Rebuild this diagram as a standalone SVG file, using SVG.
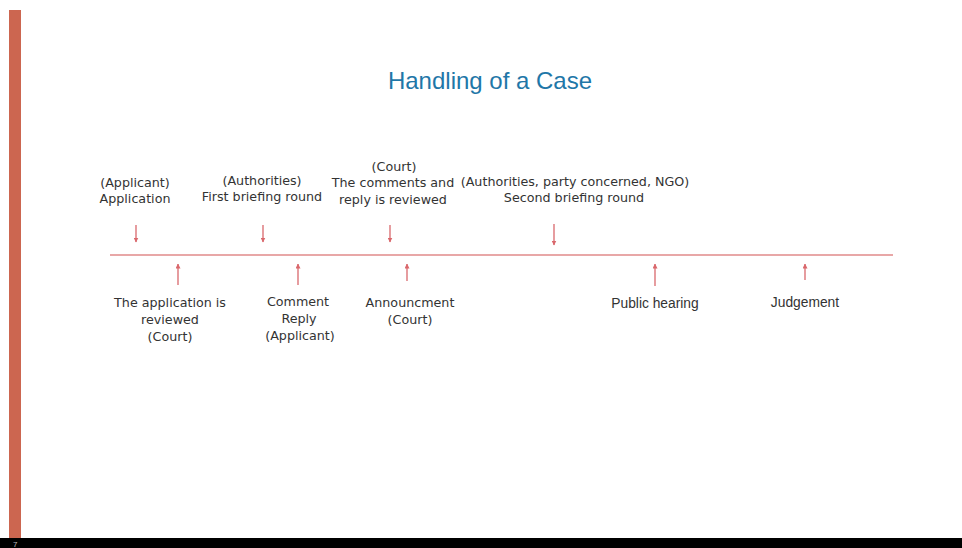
<svg xmlns="http://www.w3.org/2000/svg" width="962" height="548" viewBox="0 0 962 548">
<defs>
<style>
.lbl{font-family:"DejaVu Sans","Liberation Sans",sans-serif;font-size:12.7px;fill:#333;text-anchor:middle}
.arl{font-family:"Liberation Sans",Arial,sans-serif;font-size:13.8px;fill:#333;text-anchor:middle}
.arr{stroke:#d9686c;stroke-width:1.3;fill:none;marker-end:url(#ah)}
</style>
<marker id="ah" viewBox="0 0 10 10" refX="9" refY="5" markerWidth="5" markerHeight="5" orient="auto" markerUnits="userSpaceOnUse">
<path d="M0,0 L10,5 L0,10 z" fill="#d9686c"/>
</marker>
</defs>
<rect width="962" height="548" fill="#fff"/>
<rect x="9" y="10" width="12" height="528" fill="#cc6650"/>
<rect x="0" y="538" width="962" height="10" fill="#000"/>
<text x="13" y="546.5" font-family="Liberation Sans,sans-serif" font-size="8" fill="#bbb">7</text>
<text x="490" y="89" font-family="Liberation Sans,Arial,sans-serif" font-size="24" fill="#1f77a8" text-anchor="middle">Handling of a Case</text>
<g id="connectors">
<line x1="110" y1="255" x2="893" y2="255" stroke="#e08a8a" stroke-width="1.3"/>
<line class="arr" x1="136" y1="225" x2="136" y2="242"/>
<line class="arr" x1="263" y1="225" x2="263" y2="242"/>
<line class="arr" x1="390" y1="225" x2="390" y2="242"/>
<line class="arr" x1="554" y1="224" x2="554" y2="245"/>
<line class="arr" x1="178" y1="285" x2="178" y2="264"/>
<line class="arr" x1="298" y1="285" x2="298" y2="264"/>
<line class="arr" x1="407" y1="281" x2="407" y2="264"/>
<line class="arr" x1="655" y1="286" x2="655" y2="264"/>
<line class="arr" x1="805" y1="280" x2="805" y2="264"/>
</g>
<g id="n1"><text class="lbl" x="135" y="187">(Applicant)</text><text class="lbl" x="135" y="203">Application</text></g>
<g id="n2"><text class="lbl" x="262" y="185">(Authorities)</text><text class="lbl" x="262" y="201">First briefing round</text></g>
<g id="n3"><text class="lbl" x="394" y="171">(Court)</text><text class="lbl" x="393" y="187">The comments and</text><text class="lbl" x="393" y="204">reply is reviewed</text></g>
<g id="n4"><text class="lbl" x="575" y="186">(Authorities, party concerned, NGO)</text><text class="lbl" x="574" y="202">Second briefing round</text></g>
<g id="n5"><text class="lbl" x="170" y="307">The application is</text><text class="lbl" x="170" y="324">reviewed</text><text class="lbl" x="170" y="341">(Court)</text></g>
<g id="n6"><text class="lbl" x="298" y="306">Comment</text><text class="lbl" x="299" y="323">Reply</text><text class="lbl" x="300" y="340">(Applicant)</text></g>
<g id="n7"><text class="lbl" x="410" y="307">Announcment</text><text class="lbl" x="410" y="324">(Court)</text></g>
<g id="n8"><text class="arl" x="655" y="308">Public hearing</text></g>
<g id="n9"><text class="arl" x="805" y="307">Judgement</text></g>
</svg>
